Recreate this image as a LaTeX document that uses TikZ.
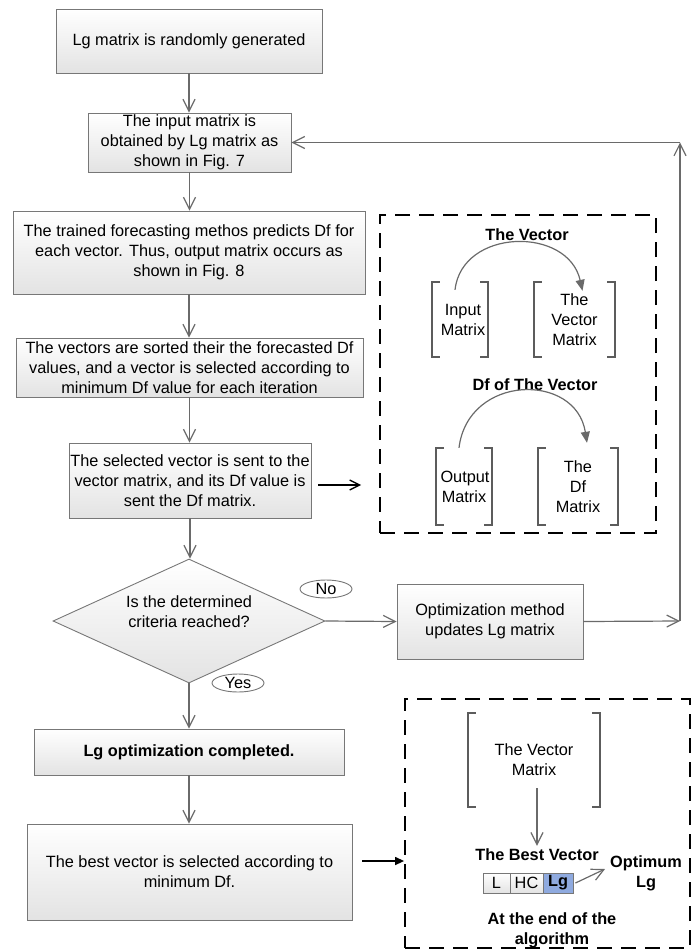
\documentclass[tikz,border=0pt]{standalone}
\usepackage{fontspec}
\setmainfont{Liberation Sans}
\usetikzlibrary{arrows.meta,shapes.geometric,calc}

\definecolor{linegray}{HTML}{6A6A6A}
\definecolor{edgegray}{HTML}{777777}
\definecolor{brkgray}{HTML}{5C5C5C}
\definecolor{cellblue}{HTML}{8FAADF}

% square brackets drawn around a matrix node
\newcommand\matbrackets[1]{%
  \draw[brk] ([xshift=8pt]#1.north west) -- (#1.north west) -- (#1.south west) -- ([xshift=8pt]#1.south west);
  \draw[brk] ([xshift=-8pt]#1.north east) -- (#1.north east) -- (#1.south east) -- ([xshift=-8pt]#1.south east);}

\begin{document}
\begin{tikzpicture}[x=1pt,y=-1pt,
  every node/.style={font=\fontsize{16.3}{20}\selectfont, inner sep=0pt},
  proc/.style={draw=edgegray, line width=0.9pt, top color=white, bottom color=black!11,
    align=center},
  decision/.style={shape=diamond, draw=edgegray, line width=0.9pt, top color=white,
    bottom color=black!11, minimum width=272pt, minimum height=124pt},
  tag/.style={shape=ellipse, draw=edgegray, line width=0.9pt, fill=white,
    minimum width=52pt, minimum height=18pt},
  group/.style={draw=black, line width=1.8pt, dash pattern=on 15pt off 9pt},
  matnode/.style={align=center},
  brk/.style={draw=brkgray, line width=2.4pt, line cap=butt},
  title/.style={font=\fontsize{16.3}{20}\selectfont\bfseries, align=center},
  cell/.style={draw=edgegray, line width=0.9pt, minimum height=20pt},
  arr/.style={draw=linegray, line width=1.2pt, -{Straight Barb[length=12pt,width=12pt,line width=1.2pt]}},
  blk/.style={draw=black, line width=1.3pt, -{Straight Barb[length=10pt,width=10pt,line width=1.3pt]}},
  blkfill/.style={draw=black, line width=1.3pt, -{Triangle[length=9pt,width=8pt]}},
  curv/.style={draw=linegray, line width=1.2pt, -{Triangle[length=11pt,width=9pt]}}
]
\useasboundingbox (0,0) rectangle (698,951);

% main flow
\node[proc, minimum width=266pt, minimum height=64pt] (gen) at (189,41)
  {Lg matrix is randomly generated};
\node[proc, minimum width=203pt, minimum height=59pt] (inp) at (189.5,142.5)
  {The input matrix is\\obtained by Lg matrix as\\shown in Fig. 7};
\node[proc, minimum width=352pt, minimum height=83pt] (pred) at (189,252.5)
  {The trained forecasting methos predicts Df for\\each vector. Thus, output matrix occurs as\\shown in Fig. 8};
\node[proc, minimum width=347pt, minimum height=59pt] (sort) at (189.5,367.5)
  {The vectors are sorted their the forecasted Df\\values, and a vector is selected according to\\minimum Df value for each iteration};
\node[proc, minimum width=242pt, minimum height=75pt] (send) at (190,480.5)
  {The selected vector is sent to the\\vector matrix, and its Df value is\\sent the Df matrix.};
\node[decision] (dec) at (189,621) {};
\node[align=center] (dectxt) at (189,612) {Is the determined\\criteria reached?};
\node[tag] (no) at (326,589) {No};
\node[tag] (yes) at (238,683) {Yes};
\node[proc, minimum width=186pt, minimum height=75pt] (upd) at (490,621.5)
  {Optimization method\\updates Lg matrix};
\node[proc, minimum width=310pt, minimum height=46pt, font=\fontsize{16.3}{20}\selectfont\bfseries] (done) at (189,752)
  {Lg optimization completed.};
\node[proc, minimum width=325pt, minimum height=96pt] (best) at (189.5,872)
  {The best vector is selected according to\\minimum Df.};

% vertical connectors
\draw[arr] (gen.south) -- (gen.south |- inp.north);
\draw[arr] (inp.south) -- (inp.south |- pred.north);
\draw[arr] (pred.south) -- (pred.south |- sort.north);
\draw[arr] (sort.south) -- (sort.south |- send.north);
\draw[arr] (send.south) -- (send.south |- dec.north);
\draw[arr] (dec.south) -- (dec.south |- done.north);
\draw[arr] (done.south) -- (done.south |- best.north);
\draw[arr] (dec.east) -- (upd.west);

% feedback loop
\coordinate (fblow) at (680,621);
\coordinate (fbtop) at (680,142.5);
\draw[arr] (upd.east) -- (fblow);
\draw[arr] (fblow) -- (fbtop);
\draw[arr] (fbtop) -- (inp.east);

% upper dashed group: vector and Df matrices
\node[group, minimum width=276pt, minimum height=318pt] (grpA) at (518,374) {};
\node[title] (tvec) at (527,235) {The Vector};
\node[matnode, minimum width=56pt, minimum height=75pt] (inm) at (460,319.5) {\hspace*{6pt}Input\\\hspace*{6pt}Matrix};
\node[matnode, minimum width=81pt, minimum height=75pt] (vecm) at (574.5,319.5) {The\\Vector\\Matrix};
\matbrackets{inm}
\matbrackets{vecm}
\draw[curv] ([xshift=-5pt,yshift=-8pt]inm.north) .. controls (462,228) and (568,226) .. ([xshift=8pt,yshift=-9pt]vecm.north);

\node[title] (tdf) at (535,385) {Df of The Vector};
\node[matnode, minimum width=56pt, minimum height=77pt] (outm) at (464,486.5) {\hspace*{2pt}Output\\Matrix};
\node[matnode, minimum width=80pt, minimum height=77pt] (dfm) at (578,486.5) {The\\Df\\Matrix};
\matbrackets{outm}
\matbrackets{dfm}
\draw[curv] ([xshift=-5pt]outm.north) .. controls (468,374) and (576,372) .. ([xshift=9pt,yshift=5pt]dfm.north);

\draw[blk] ([xshift=7pt,yshift=-4.5pt]send.east) -- ([yshift=-4.5pt,xshift=-18pt]send.east -| grpA.west);

% lower dashed group: the best vector
\node[group, minimum width=285pt, minimum height=249pt] (grpB) at (547.5,823.5) {};
\node[matnode, minimum width=132pt, minimum height=94pt] (vecm2) at (534,760) {The Vector\\Matrix};
\matbrackets{vecm2}
\node[title] (tbest) at (537,855) {The Best Vector};
\draw[arr] ([xshift=3pt,yshift=19pt]vecm2.south) -- ([yshift=3pt]tbest.north);
\node[cell, minimum width=27pt, top color=white, bottom color=black!11] (cL) at (496.5,883) {L};
\node[cell, minimum width=33pt, top color=white, bottom color=black!11] (cHC) at (526.5,883) {HC};
\node[cell, minimum width=30pt, fill=cellblue, font=\fontsize{16.3}{20}\selectfont\bfseries] (cLg) at (558,883) {Lg};
\node[title] (optlg) at (646,873) {Optimum\\Lg};
\draw[arr] ([xshift=2pt]cLg.east) -- ([xshift=-5pt,yshift=4pt]optlg.west);
\node[title] (tend) at (552,930) {At the end of the\\algorithm};

\draw[blkfill] ([xshift=10pt,yshift=11pt]best.east) -- ([yshift=11pt]best.east -| grpB.west);
\end{tikzpicture}
\end{document}
